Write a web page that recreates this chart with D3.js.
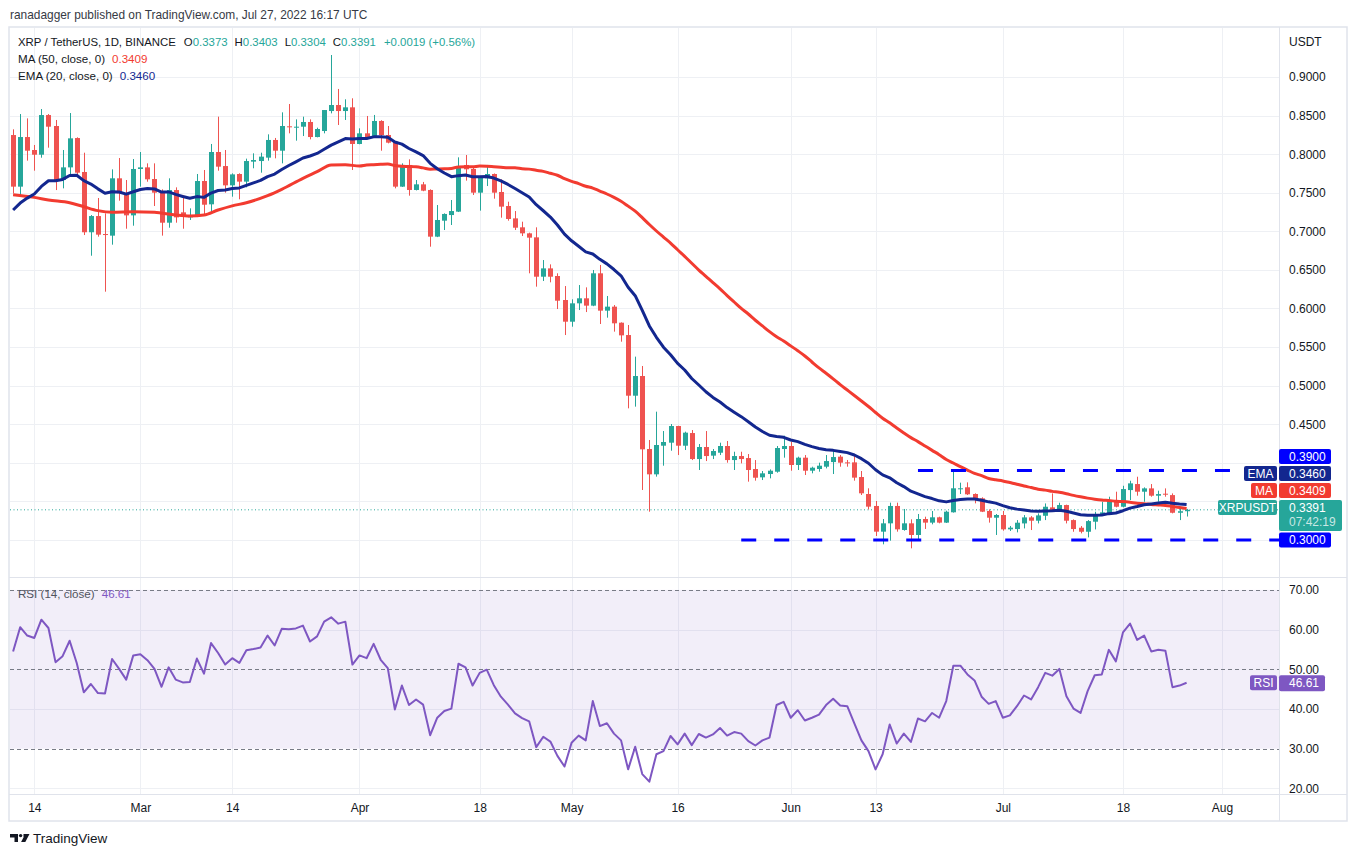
<!DOCTYPE html>
<html>
<head>
<meta charset="utf-8">
<script src="https://cdn.jsdelivr.net/npm/d3@7"></script>
<style>
  body { margin: 0; background: #fff; }
  svg text { font-family: "Liberation Sans", Arial, sans-serif; }
</style>
</head>
<body>
<svg id="chart"></svg>
<script>
// XRP / TetherUS daily, Feb 11 - Jul 27 2022
const firstDay = "2022-02-11";
const lastDay = "2022-07-27";

const opens = [
  .8248,.7579,.8222,.8054,.7993,.8507,.8365,.7665,.7829,.8209,
  .7769,.6988,.7198,.6965,.6944,.7687,.7492,.7207,.7808,.7829,
  .7678,.7514,.7112,.7535,.7246,.7181,.7190,.7652,.7350,.8028,
  .7846,.7596,.7743,.7644,.7903,.7911,.7955,.8184,.8045,.8361,
  .8348,.8356,.8417,.8222,.8300,.8559,.8637,.8559,.8607,.8132,
  .8270,.8214,.8430,.8248,.8162,.7579,.7860,.7536,.7609,.7536,
  .6931,.7138,.7211,.7255,.7860,.7808,.7501,.7687,.7743,.7510,
  .7328,.7168,.7052,.6974,.6922,.6412,.6520,.6421,.6110,.5829,
  .6067,.6132,.6037,.6456,.5972,.6024,.5816,.5656,.4870,.5125,
  .4179,.3851,.4222,.4261,.4477,.4222,.4386,.4049,.4205,.4093,
  .4131,.4218,.4036,.4088,.4062,.3920,.3812,.3855,.3885,.4179,
  .4218,.3972,.4067,.3898,.3920,.3950,.4010,.4080,.4006,.4006,
  .3816,.3596,.3441,.3108,.3216,.3441,.3130,.3216,.3065,.3272,
  .3225,.3294,.3225,.3359,.3666,.3683,.3596,.3540,.3376,.3289,
  .3324,.3138,.3142,.3215,.3293,.3250,.3314,.3423,.3388,.3453,
  .3258,.3159,.3107,.3237,.3336,.3345,.3505,.3431,.3647,.3725,
  .3626,.3669,.3574,.3600,.3582,.3353,.3373
];
const highs = [
  .8322,.8520,.8464,.8119,.8585,.8520,.8443,.8054,.8533,.8218,
  .8019,.7211,.7432,.7233,.7803,.7950,.7665,.7937,.8028,.7881,
  .7881,.7544,.7687,.7570,.7471,.7298,.7743,.7795,.8132,.8486,
  .8054,.7751,.7752,.7942,.8011,.8019,.8257,.8210,.8542,.8650,
  .8451,.8486,.8451,.8343,.8572,.9285,.8845,.8711,.8724,.8335,
  .8495,.8508,.8440,.8365,.8165,.7881,.7933,.7665,.7640,.7544,
  .7341,.7233,.7406,.7959,.7989,.7838,.7695,.7860,.7750,.7674,
  .7384,.7263,.7125,.6983,.7052,.6628,.6572,.6456,.6291,.6119,
  .6304,.6274,.6499,.6564,.6162,.6045,.5820,.5786,.5376,.5255,
  .4296,.4663,.4412,.4503,.4480,.4404,.4425,.4244,.4412,.4179,
  .4261,.4283,.4144,.4144,.4114,.4036,.3894,.3915,.4218,.4352,
  .4274,.4080,.4101,.3950,.4002,.4101,.4179,.4101,.4037,.4114,
  .3894,.3670,.3505,.3272,.3484,.3484,.3402,.3268,.3337,.3302,
  .3376,.3302,.3380,.3916,.3743,.3747,.3605,.3553,.3397,.3337,
  .3376,.3182,.3258,.3323,.3310,.3345,.3474,.3604,.3483,.3458,
  .3267,.3181,.3258,.3366,.3496,.3561,.3626,.3703,.3768,.3820,
  .3682,.3725,.3639,.3669,.3604,.3410,.3403
];
const lows = [
  .7492,.7471,.7916,.7786,.7954,.8084,.7535,.7557,.7717,.7708,
  .6952,.6684,.6931,.6218,.6827,.7397,.7034,.7073,.7579,.7643,
  .7328,.6944,.7047,.7112,.7034,.7147,.7185,.7224,.7250,.7786,
  .7501,.7449,.7415,.7570,.7817,.7760,.7916,.7946,.7881,.8270,
  .8175,.8235,.8192,.8218,.8270,.8529,.8378,.8443,.7795,.8128,
  .8192,.8210,.8045,.8140,.7557,.7575,.7462,.7530,.7520,.6801,
  .6925,.7017,.7082,.7250,.7657,.7471,.7268,.7587,.7423,.7177,
  .7138,.7017,.6939,.6456,.6283,.6356,.6339,.5993,.5656,.5764,
  .5980,.5954,.6030,.5799,.5881,.5700,.5570,.4706,.4728,.3648,
  .3367,.3821,.3963,.4157,.4101,.4166,.4036,.3907,.4023,.4049,
  .4101,.4002,.3907,.3993,.3756,.3769,.3777,.3799,.3872,.4067,
  .3898,.3907,.3842,.3864,.3885,.3928,.3855,.3950,.3950,.3769,
  .3583,.3397,.3052,.2944,.2991,.3108,.3121,.2892,.2991,.3143,
  .3203,.3216,.3220,.3355,.3596,.3583,.3475,.3362,.3225,.3065,
  .3121,.3117,.3099,.3150,.3129,.3215,.3258,.3366,.3379,.3215,
  .3107,.3086,.3034,.3137,.3323,.3336,.3423,.3423,.3518,.3574,
  .3496,.3561,.3496,.3561,.3345,.3258,.3304
];
const closes = [
  .7579,.8222,.8045,.7993,.8507,.8356,.7665,.7829,.8205,.7760,
  .6988,.7198,.6957,.6957,.7687,.7492,.7207,.7808,.7829,.7674,
  .7501,.7112,.7535,.7181,.7190,.7211,.7652,.7345,.8028,.7838,
  .7596,.7738,.7644,.7911,.7924,.7968,.8184,.8045,.8365,.8348,
  .8356,.8417,.8222,.8326,.8572,.8637,.8559,.8607,.8132,.8270,
  .8205,.8430,.8248,.8149,.7579,.7860,.7536,.7609,.7527,.6931,
  .7147,.7225,.7263,.7847,.7804,.7501,.7695,.7743,.7501,.7320,
  .7160,.7047,.6974,.6918,.6412,.6520,.6412,.6101,.5829,.6067,
  .6132,.6037,.6456,.5972,.6024,.5808,.5652,.4870,.5125,.4175,
  .3851,.4231,.4270,.4477,.4222,.4391,.4049,.4205,.4088,.4153,
  .4218,.4036,.4088,.4049,.3907,.3807,.3864,.3898,.4192,.4218,
  .3972,.4067,.3898,.3937,.3963,.4023,.4075,.4002,.3998,.3808,
  .3605,.3432,.3108,.3216,.3441,.3138,.3216,.3065,.3272,.3225,
  .3294,.3225,.3367,.3670,.3670,.3592,.3527,.3367,.3289,.3324,
  .3138,.3160,.3224,.3293,.3250,.3319,.3431,.3388,.3453,.3250,
  .3142,.3107,.3245,.3336,.3358,.3505,.3431,.3660,.3734,.3626,
  .3669,.3574,.3595,.3587,.3353,.3373,.3391
];
const rsiValues = [
  54.5,60.6,58.5,57.9,62.5,60.4,51.8,53.3,57.2,51.6,
  44.2,46.3,44.0,43.9,52.6,50.1,47.4,53.5,53.8,52.3,
  50.1,45.6,50.5,47.4,46.7,46.8,52.7,48.9,56.6,54.1,
  51.2,52.8,51.6,54.8,55.1,55.5,58.5,56.0,60.2,60.1,
  60.3,61.0,57.0,58.3,62.0,63.1,61.5,62.0,51.2,53.5,
  52.8,56.4,52.4,50.3,39.9,45.9,41.0,42.4,41.1,33.4,
  37.8,39.5,40.1,51.4,50.5,45.9,49.1,49.9,46.0,43.1,
  41.1,38.9,37.7,36.9,30.4,33.0,31.8,28.2,25.5,31.5,
  33.3,32.1,42.0,35.7,36.4,33.8,32.1,24.8,30.5,23.6,
  21.7,28.6,29.4,33.2,31.1,33.8,30.9,33.7,32.8,33.6,
  35.2,33.3,34.2,33.8,31.9,30.8,32.1,32.8,41.0,41.8,
  37.8,39.7,37.1,37.8,38.6,41.0,42.6,40.9,40.7,36.4,
  32.1,29.4,24.8,28.6,36.1,31.3,33.8,31.7,37.6,36.9,
  39.0,37.8,42.0,50.9,50.9,48.7,47.2,43.1,41.3,42.0,
  37.8,38.4,40.7,43.4,42.4,45.5,49.1,48.4,50.1,43.2,
  40.1,39.0,44.5,48.5,48.7,54.9,52.0,59.3,61.5,57.4,
  58.5,54.5,54.9,54.7,45.5,45.9,46.61
];

// MA(50) before enough closes are on screen
const maLeadDates = ["2022-02-11","2022-02-14","2022-02-16","2022-02-19","2022-02-21","2022-02-23",
  "2022-02-25","2022-02-28","2022-03-03","2022-03-06","2022-03-08","2022-03-10","2022-03-12",
  "2022-03-14","2022-03-16","2022-03-19","2022-03-21","2022-03-24","2022-03-26","2022-03-28","2022-03-30"];
const maLeadValues = [.7475,.7440,.7406,.7371,.7319,.7268,.7246,.7255,.7246,.7211,.7198,.7211,.7276,
  .7330,.7371,.7462,.7544,.7687,.7773,.7860,.7862];
const emaSeed = 0.7244;   // EMA(20) on Feb 10

// support / resistance lines drawn by the author
const levelValues = [0.39, 0.30];
const levelStarts = ["2022-06-19", "2022-05-25"];

// time axis
const tickDates = ["2022-02-14","2022-03-01","2022-03-14","2022-04-01","2022-04-18","2022-05-01",
  "2022-05-16","2022-06-01","2022-06-13","2022-07-01","2022-07-18","2022-08-01"];
const tickLabels = ["14","Mar","14","Apr","18","May","16","Jun","13","Jul","18","Aug"];
const priceTicks = d3.range(0.30, 0.9001, 0.05);
const rsiTicks = [20, 30, 40, 50, 60, 70];

// legend values shown by TradingView
const ohlcLast = { o: "0.3373", h: "0.3403", l: "0.3304", c: "0.3391", chg: "+0.0019 (+0.56%)" };
const maLast = 0.3409, emaLast = 0.3460, priceLast = 0.3391, rsiLast = 46.61;

// ---------------------------------------------------------------
const width = 1357, height = 857;
const left = 10, right = 1279;
const priceTop = 28, priceBottom = 577, rsiTop = 578, rsiBottom = 794, frameBottom = 821;

const up = "#26a69a", down = "#ef5350";
const maColor = "#f23b30", emaColor = "#13278f", rsiColor = "#7e57c2", levelColor = "#0000ff";
const gridColor = "#eef0f4", borderColor = "#e0e3eb", textColor = "#131722";

const parse = d3.utcParse("%Y-%m-%d");
const dates = d3.utcDays(parse(firstDay), d3.utcDay.offset(parse(lastDay), 1));

const candles = dates.map((d, i) => ({
  date: d, o: opens[i], h: highs[i], l: lows[i], c: closes[i]
}));

// indicators
const k = 2 / 21;
let prevEma = emaSeed;
const ema = closes.map(c => (prevEma = prevEma + k * (c - prevEma)));
const maPoints = maLeadDates.map((d, i) => ({ date: parse(d), v: maLeadValues[i] }));
closes.forEach((c, i) => {
  if (i >= 49) maPoints.push({ date: dates[i], v: d3.mean(closes.slice(i - 49, i + 1)) });
});

const x = d3.scaleUtc().domain([dates[0], dates[dates.length - 1]]).range([13.1, 1186.6]);
const y = d3.scaleLinear().domain([0.3, 0.9]).range([540, 77]);
const yR = d3.scaleLinear().domain([20, 70]).range([788.4, 589.9]);

const svg = d3.select("#chart").attr("width", width).attr("height", height);
svg.append("rect").attr("width", width).attr("height", height).attr("fill", "#fff");

const defs = svg.append("defs");
defs.append("clipPath").attr("id", "clipPrice").append("rect")
  .attr("x", left).attr("y", priceTop).attr("width", right - left).attr("height", priceBottom - priceTop);
defs.append("clipPath").attr("id", "clipRsi").append("rect")
  .attr("x", left).attr("y", rsiTop).attr("width", right - left).attr("height", rsiBottom - rsiTop);

// published line
svg.append("text").attr("x", 10).attr("y", 19).attr("font-size", 11.9).attr("fill", "#363a45")
  .text("ranadagger published on TradingView.com, Jul 27, 2022 16:17 UTC");

// grid
const grid = svg.append("g");
grid.selectAll(".vg").data(tickDates).enter().append("line")
  .attr("x1", d => Math.round(x(parse(d))) + 0.5).attr("x2", d => Math.round(x(parse(d))) + 0.5)
  .attr("y1", priceTop).attr("y2", rsiBottom).attr("stroke", gridColor);
grid.selectAll(".hg").data(priceTicks).enter().append("line")
  .attr("x1", left).attr("x2", right)
  .attr("y1", d => Math.round(y(d)) + 0.5).attr("y2", d => Math.round(y(d)) + 0.5).attr("stroke", gridColor);

// RSI band and levels
svg.append("rect").attr("x", left).attr("width", right - left)
  .attr("y", yR(70)).attr("height", yR(30) - yR(70)).attr("fill", "rgba(126,87,194,0.1)");
grid.selectAll(".rg").data([20, 40, 60]).enter().append("line")
  .attr("x1", left).attr("x2", right)
  .attr("y1", d => Math.round(yR(d)) + 0.5).attr("y2", d => Math.round(yR(d)) + 0.5).attr("stroke", gridColor);
svg.append("g").selectAll("line").data([30, 50, 70]).enter().append("line")
  .attr("x1", left).attr("x2", right)
  .attr("y1", d => Math.round(yR(d)) + 0.5).attr("y2", d => Math.round(yR(d)) + 0.5)
  .attr("stroke", "#787b86").attr("stroke-dasharray", "4,3").attr("stroke-width", 1);

// price pane
const pricePane = svg.append("g").attr("clip-path", "url(#clipPrice)");

pricePane.append("line").attr("x1", left).attr("x2", right)
  .attr("y1", y(priceLast)).attr("y2", y(priceLast))
  .attr("stroke", up).attr("stroke-dasharray", "1,2.5");

const candle = pricePane.selectAll(".candle").data(candles).enter().append("g")
  .attr("fill", d => d.c >= d.o ? up : down)
  .attr("stroke", d => d.c >= d.o ? up : down);
candle.append("line")
  .attr("x1", d => Math.round(x(d.date)) + 0.5).attr("x2", d => Math.round(x(d.date)) + 0.5)
  .attr("y1", d => y(d.h)).attr("y2", d => y(d.l));
candle.append("rect")
  .attr("stroke", "none")
  .attr("x", d => Math.round(x(d.date)) - 2)
  .attr("width", 5)
  .attr("y", d => y(Math.max(d.o, d.c)))
  .attr("height", d => Math.max(1, Math.abs(y(d.o) - y(d.c))));

pricePane.append("path").datum(maPoints)
  .attr("fill", "none").attr("stroke", maColor).attr("stroke-width", 3).attr("stroke-linejoin", "round")
  .attr("d", d3.line().x(d => x(d.date)).y(d => y(d.v)).curve(d3.curveMonotoneX));
pricePane.append("path").datum(ema)
  .attr("fill", "none").attr("stroke", emaColor).attr("stroke-width", 3).attr("stroke-linejoin", "round")
  .attr("d", d3.line().x((d, i) => x(dates[i])).y(d => y(d)));

levelValues.forEach((v, i) => {
  pricePane.append("line")
    .attr("x1", x(parse(levelStarts[i]))).attr("x2", right)
    .attr("y1", y(v)).attr("y2", y(v))
    .attr("stroke", levelColor).attr("stroke-width", 3).attr("stroke-dasharray", "15,18");
});

// RSI pane
svg.append("g").attr("clip-path", "url(#clipRsi)").append("path").datum(rsiValues)
  .attr("fill", "none").attr("stroke", rsiColor).attr("stroke-width", 2).attr("stroke-linejoin", "round")
  .attr("d", d3.line().x((d, i) => x(dates[i])).y(d => yR(d)));

// frame and separators
svg.append("rect").attr("x", 9).attr("y", 27).attr("width", 1338).attr("height", frameBottom - 27)
  .attr("fill", "none").attr("stroke", borderColor).attr("stroke-width", 1.5);
svg.append("line").attr("x1", 9).attr("x2", 1347).attr("y1", priceBottom + 0.5).attr("y2", priceBottom + 0.5)
  .attr("stroke", borderColor);
svg.append("line").attr("x1", 9).attr("x2", 1347).attr("y1", rsiBottom + 0.5).attr("y2", rsiBottom + 0.5)
  .attr("stroke", borderColor);
svg.append("line").attr("x1", right + 0.5).attr("x2", right + 0.5).attr("y1", 27).attr("y2", frameBottom)
  .attr("stroke", borderColor);

// axes
function styleAxis(g) {
  g.select(".domain").remove();
  g.selectAll("text").attr("font-family", '"Liberation Sans", Arial, sans-serif')
    .attr("font-size", 12).attr("fill", textColor);
}
const priceAxis = svg.append("g").attr("transform", `translate(${right},0)`)
  .call(d3.axisRight(y).tickValues(priceTicks).tickFormat(d3.format(".4f")).tickSize(0).tickPadding(10))
  .call(styleAxis);
svg.append("g").attr("transform", `translate(${right},0)`)
  .call(d3.axisRight(yR).tickValues(rsiTicks).tickFormat(d3.format(".2f")).tickSize(0).tickPadding(10))
  .call(styleAxis);
svg.append("g").attr("transform", `translate(0,${rsiBottom})`)
  .call(d3.axisBottom(x).tickValues(tickDates.map(parse)).tickFormat((d, i) => tickLabels[i])
    .tickSize(0).tickPadding(9))
  .call(styleAxis);

svg.append("text").attr("x", 1289).attr("y", 46).attr("font-size", 12).attr("fill", textColor).text("USDT");

// price scale labels, stacked upwards from the last price like TradingView does
const boxes = [];
function axisBox(cy, h, w, fill, lines) {
  const g = svg.append("g");
  g.append("rect").attr("x", right).attr("y", cy - 7.5).attr("width", w).attr("height", h)
    .attr("rx", 2).attr("fill", fill);
  lines.forEach((t, j) => {
    g.append("text").attr("x", 1289).attr("y", cy + 4.2 + j * 14).attr("font-size", 12)
      .attr("fill", j ? "rgba(255,255,255,0.75)" : "#fff").text(t);
  });
  boxes.push([cy - 7.5, cy - 7.5 + h]);
}
function sideBox(cy, label, w, fill) {
  svg.append("rect").attr("x", right - 2 - w).attr("y", cy - 7.5).attr("width", w).attr("height", 15)
    .attr("rx", 2).attr("fill", fill);
  svg.append("text").attr("x", right - 2 - w / 2).attr("y", cy + 4.2).attr("text-anchor", "middle")
    .attr("font-size", 12).attr("fill", "#fff").text(label);
}
const fmt4 = d3.format(".4f");
const lowLevelY = y(levelValues[1]);
axisBox(lowLevelY, 15, 52, levelColor, [fmt4(levelValues[1])]);
let stackTop = lowLevelY - 7.5;
const priceY = Math.min(y(priceLast), stackTop - 2 - 23);
axisBox(priceY, 31, 63, up, [fmt4(priceLast), "07:42:19"]);
sideBox(priceY, "XRPUSDT", 59, up);
stackTop = priceY - 7.5;
const maY = Math.min(y(maLast), stackTop - 2 - 7.5);
axisBox(maY, 15, 52, maColor, [fmt4(maLast)]);
sideBox(maY, "MA", 26, maColor);
stackTop = maY - 7.5;
const emaY = Math.min(y(emaLast), stackTop - 2 - 7.5);
axisBox(emaY, 15, 52, emaColor, [fmt4(emaLast)]);
sideBox(emaY, "EMA", 33, emaColor);
stackTop = emaY - 7.5;
const hiY = Math.min(y(levelValues[0]), stackTop - 2 - 7.5);
axisBox(hiY, 15, 52, levelColor, [fmt4(levelValues[0])]);

// tick labels hidden under the boxes, as on TradingView
priceAxis.selectAll(".tick")
  .filter(d => boxes.some(b => y(d) > b[0] - 5 && y(d) < b[1] + 5))
  .remove();

const rsiY = yR(rsiLast);
axisBox(rsiY, 16, 46, rsiColor, [d3.format(".2f")(rsiLast)]);
sideBox(rsiY, "RSI", 27, rsiColor);

// legends
function legend(yy, parts, size) {
  const t = svg.append("text").attr("x", 18).attr("y", yy).attr("font-size", size);
  parts.forEach(p => t.append("tspan").attr("fill", p[1]).attr("dx", p[2] || 0).text(p[0]));
}
legend(46, [["XRP / TetherUS, 1D, BINANCE", textColor], ["O", textColor, 8], [ohlcLast.o, up],
  ["H", textColor, 7], [ohlcLast.h, up], ["L", textColor, 7], [ohlcLast.l, up],
  ["C", textColor, 7], [ohlcLast.c, up], [ohlcLast.chg, up, 8]], 11.4);
legend(63, [["MA (50, close, 0)", textColor], [fmt4(maLast), maColor, 7]], 11.6);
legend(80, [["EMA (20, close, 0)", textColor], [fmt4(emaLast), emaColor, 7]], 11.6);
legend(598, [["RSI (14, close)", "#50535e"], [d3.format(".2f")(rsiLast), rsiColor, 7]], 11.6);

// footer logo
const logo = svg.append("g").attr("fill", textColor);
logo.append("path").attr("d", "M10,834 h8 v8 h-3.5 v-4.6 h-4.5 z");
logo.append("circle").attr("cx", 20.6).attr("cy", 835.6).attr("r", 1.7);
logo.append("path").attr("d", "M23.5,834 h6 l-4.2,8 h-4.2 l2.6,-5 h-0.2 z");
svg.append("text").attr("x", 33).attr("y", 843).attr("font-size", 13.5).attr("fill", textColor).text("TradingView");
</script>
</body>
</html>
